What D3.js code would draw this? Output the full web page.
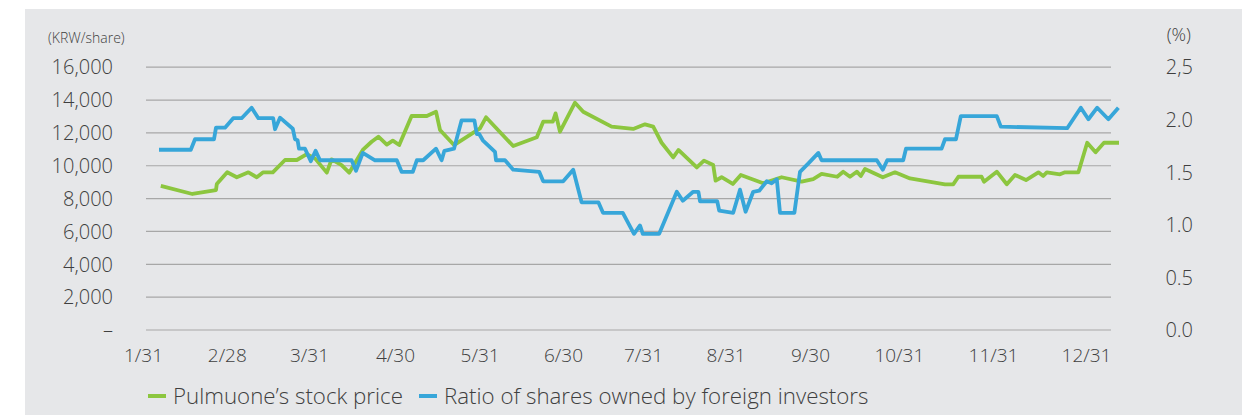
<!DOCTYPE html>
<html>
<head>
<meta charset="utf-8">
<script src="https://cdn.jsdelivr.net/npm/d3@7/dist/d3.min.js"></script>
<style>
  html, body { margin: 0; padding: 0; background: #ffffff; }
  svg { display: block; }
  text { font-family: "Open Sans", "Noto Sans", sans-serif; fill: #3f3f3f; font-weight: 300; }
</style>
</head>
<body>
<svg id="chart" width="1242" height="415"></svg>
<script>
// Trading-session index (t) along the year and the month-end labels placed on it
const xTickPos    = [-0.75, 20.2, 40.75, 62.25, 83.4, 104.25, 124.25, 144.9, 166, 188.2, 211.75, 235];
const xTickLabels = ["1/31", "2/28", "3/31", "4/30", "5/31", "6/30", "7/31", "8/31", "9/30", "10/31", "11/31", "12/31"];

// Left axis: share price (KRW)
const leftTicks  = [0, 2000, 4000, 6000, 8000, 10000, 12000, 14000, 16000];
const leftLabels = ["\u2013", "2,000", "4,000", "6,000", "8,000", "10,000", "12,000", "14,000", "16,000"];

// Right axis: foreign ownership ratio (%)
const rightTicks  = [0, 0.5, 1.0, 1.5, 2.0, 2.5];
const rightLabels = ["0.0", "0.5", "1.0", "1.5", "2.0", "2,5"];

// Pulmuone's stock price, [t, KRW]
const stockPrice = [
  [3.7, 8740], [11.6, 8250], [17.5, 8490], [17.7, 8860], [20.3, 9570], [22.7, 9270],
  [25.6, 9570], [27.7, 9270], [29.3, 9570], [31.7, 9570], [34.75, 10320], [37.7, 10320],
  [40.2, 10680], [42.25, 10420], [45.2, 9550], [46.4, 10360], [48.9, 10010], [50.8, 9550],
  [51.8, 9950], [54.2, 10930], [56.4, 11430], [58.1, 11740], [60.2, 11260], [61.7, 11500],
  [63.3, 11230], [66.4, 13000], [70.2, 13000], [72.5, 13260], [73.5, 12150], [77, 11230],
  [83.5, 12250], [85, 12920], [91.8, 11170], [97.7, 11700], [99.3, 12650], [101.7, 12650],
  [102.4, 13160], [103.5, 12040], [107.25, 13810], [109.3, 13260], [116.4, 12350], [121.8, 12210],
  [124.75, 12490], [126.8, 12350], [128.9, 11370], [131.8, 10480], [133.1, 10930], [137.7, 9870],
  [139.5, 10280], [141.8, 10010], [142.4, 9060], [143.9, 9270], [146.7, 8860], [148.7, 9410],
  [154.3, 8900], [158.9, 9270], [163.9, 9000], [166.8, 9160], [168.9, 9470], [172.8, 9300],
  [174.3, 9600], [176, 9300], [177.7, 9610], [178.7, 9345], [179.75, 9770], [184.2, 9270],
  [187.25, 9570], [191, 9200], [199.75, 8840], [201.8, 8840], [203.1, 9300], [208.9, 9300],
  [209.5, 9000], [212.7, 9610], [215.2, 8840], [217.25, 9410], [220, 9100], [223.1, 9570],
  [224.3, 9345], [225.2, 9570], [228.5, 9450], [229.75, 9570], [233.1, 9570], [235.3, 11370],
  [237.4, 10790], [239.5, 11370], [243.25, 11370]
];

// Ratio of shares owned by foreign investors, [t, %]
const foreignRatio = [
  [3.25, 1.71], [11.2, 1.71], [12.25, 1.81], [17, 1.81], [17.5, 1.92], [19.75, 1.92],
  [21.8, 2.01], [23.9, 2.01], [26.4, 2.11], [28.1, 2.01], [31.8, 2.01], [32.25, 1.905],
  [33.5, 2.015], [36.7, 1.91], [37.25, 1.81], [37.9, 1.80], [38.25, 1.72], [39.75, 1.72],
  [41.2, 1.60], [42.4, 1.70], [43.5, 1.61], [51.4, 1.61], [52.5, 1.51], [54.2, 1.68],
  [57.25, 1.61], [62.7, 1.61], [63.9, 1.50], [66.7, 1.50], [67.7, 1.61], [69.3, 1.61],
  [72.5, 1.72], [73.9, 1.61], [74.6, 1.70], [77, 1.72], [78.9, 1.99], [82.1, 1.99],
  [82.7, 1.86], [83.3, 1.86], [84.2, 1.80], [87.25, 1.69], [87.5, 1.61], [89.75, 1.61],
  [91.8, 1.52], [98.3, 1.50], [99.3, 1.41], [104.3, 1.41], [106.8, 1.52], [108.9, 1.21],
  [113.1, 1.21], [114.25, 1.11], [119.2, 1.11], [122, 0.91], [123.5, 0.99], [124.2, 0.91],
  [128.3, 0.91], [132.7, 1.31], [134.2, 1.225], [136.8, 1.31], [138.1, 1.31], [138.5, 1.22],
  [142.8, 1.22], [143.3, 1.13], [146.8, 1.11], [148.5, 1.33], [149.9, 1.12], [151.8, 1.31],
  [153.3, 1.32], [155.2, 1.41], [156.4, 1.39], [157.7, 1.43], [158.5, 1.11], [162.1, 1.11],
  [163.5, 1.50], [165.6, 1.58], [168.1, 1.68], [168.9, 1.61], [182.7, 1.61], [184.2, 1.52],
  [185.3, 1.61], [189.3, 1.61], [190, 1.72], [198.9, 1.72], [199.75, 1.81], [202.5, 1.81],
  [203.7, 2.03], [212.7, 2.03], [213.7, 1.93], [230.3, 1.915], [233.7, 2.11], [235.6, 2.00],
  [237.8, 2.11], [240.6, 2.00], [243.1, 2.11]
];

const seriesNames = ["Pulmuone\u2019s stock price", "Ratio of shares owned by foreign investors"];
const seriesColors = ["#8cc63f", "#37a6d9"];

const width = 1242, height = 415;
const plot = { left: 146, right: 1111, top: 66.7, bottom: 329.5 };

const svg = d3.select("#chart");

// panel background
svg.append("rect")
  .attr("x", 25).attr("y", 9)
  .attr("width", width - 25).attr("height", height - 9)
  .attr("fill", "#e6e7e9");

const x = d3.scaleLinear().domain([0, 241.25]).range([plot.left, plot.right]);
const yL = d3.scaleLinear().domain([0, 16000]).range([plot.bottom, plot.top]);
const yR = d3.scaleLinear().domain([0, 2.5]).range([plot.bottom, plot.top]);

// left axis with gridlines
const gLeft = svg.append("g")
  .attr("transform", `translate(${plot.left},0)`)
  .call(d3.axisLeft(yL)
    .tickValues(leftTicks)
    .tickSize(-(plot.right - plot.left))
    .tickPadding(33)
    .tickFormat((d, i) => leftLabels[i]));
gLeft.select(".domain").remove();
gLeft.selectAll(".tick line").attr("stroke", "#a7a7a7").attr("stroke-width", 1.2);
gLeft.selectAll(".tick text").attr("font-size", 20).attr("dy", "0.36em");

// right axis labels
const gRight = svg.append("g")
  .attr("transform", "translate(1193,0)")
  .call(d3.axisRight(yR)
    .tickValues(rightTicks)
    .tickSize(0)
    .tickPadding(0)
    .tickFormat((d, i) => rightLabels[i]));
gRight.select(".domain").remove();
gRight.selectAll(".tick text").attr("font-size", 20).attr("text-anchor", "end").attr("dy", "0.36em");

// bottom axis labels
const gBottom = svg.append("g")
  .attr("transform", `translate(0,${plot.bottom})`)
  .call(d3.axisBottom(x)
    .tickValues(xTickPos)
    .tickSize(0)
    .tickPadding(19)
    .tickFormat((d, i) => xTickLabels[i]));
gBottom.select(".domain").remove();
gBottom.selectAll(".tick text").attr("font-size", 19);

// unit captions
svg.append("text").attr("x", 48).attr("y", 43).attr("font-size", 14).text("(KRW/share)");
svg.append("text").attr("x", 1191).attr("y", 41).attr("font-size", 18).attr("text-anchor", "end").text("(%)");

// series lines
const priceLine = d3.line().x(d => x(d[0])).y(d => yL(d[1]));
const ratioLine = d3.line().x(d => x(d[0])).y(d => yR(d[1]));

svg.append("path")
  .datum(stockPrice)
  .attr("d", priceLine)
  .attr("fill", "none")
  .attr("stroke", seriesColors[0])
  .attr("stroke-width", 3.8)
  .attr("stroke-linejoin", "round");

svg.append("path")
  .datum(foreignRatio)
  .attr("d", ratioLine)
  .attr("fill", "none")
  .attr("stroke", seriesColors[1])
  .attr("stroke-width", 3.8)
  .attr("stroke-linejoin", "round");

// legend
const legendItems = [
  { name: seriesNames[0], color: seriesColors[0], x: 148 },
  { name: seriesNames[1], color: seriesColors[1], x: 419 }
];
const lg = svg.append("g").attr("transform", "translate(0,396)");
legendItems.forEach(item => {
  lg.append("line")
    .attr("x1", item.x).attr("x2", item.x + 18)
    .attr("y1", 0).attr("y2", 0)
    .attr("stroke", item.color).attr("stroke-width", 4);
  lg.append("text")
    .attr("x", item.x + 25).attr("y", 8)
    .attr("font-size", 22.3)
    .text(item.name);
});
</script>
</body>
</html>
